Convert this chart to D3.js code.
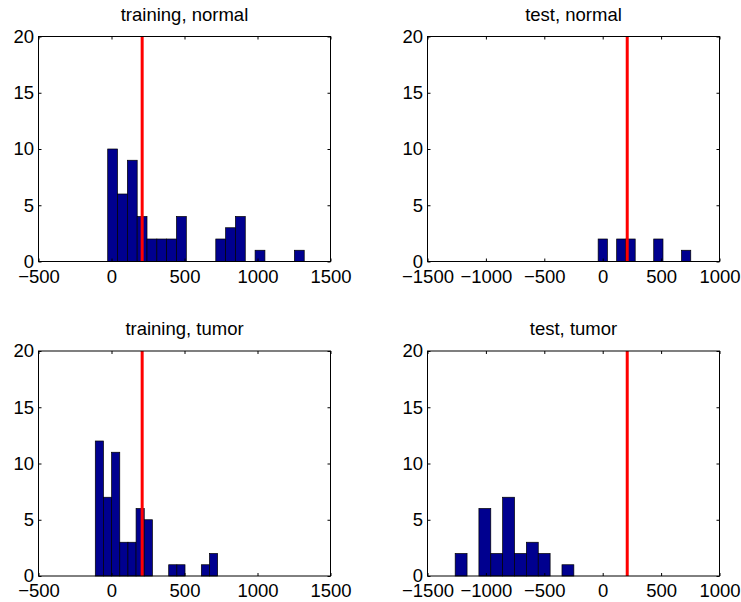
<!DOCTYPE html>
<html lang="en">
<head>
<meta charset="utf-8">
<title>Histograms</title>
<script type="text/javascript" src="https://d3js.org/d3.v7.min.js"></script>
<style>
body {
	margin: 0;
	background: #fff;
}
svg text {
	font-family: "Liberation Sans", Arial, Helvetica, sans-serif;
	font-size: 18.5px;
	fill: #000;
}
.bar {
	fill: #00008f;
	stroke: #000;
	stroke-width: 0.7;
}
</style>
</head>
<body>
<div id="chart"></div>
<script type="text/javascript">

// Panel titles, in reading order
var titles = ["training, normal", "test, normal", "training, tumor", "test, tumor"];

// Histogram counts
var trainNormalCounts = [10, 6, 9, 4, 2, 2, 2, 4, 0, 0, 0, 2, 3, 4, 0, 1, 0, 0, 0, 1];
var testNormalCounts = [2, 0, 2, 2, 0, 0, 2, 0, 0, 1];
var trainTumorCounts = [12, 7, 11, 3, 3, 6, 5, 0, 0, 1, 1, 0, 0, 1, 2];
var testTumorCounts = [2, 0, 6, 2, 7, 2, 3, 2, 0, 1];

// Data min / max of each panel (hist spreads its bins evenly between them)
var binRanges = [[-26, 1320], [-39, 754], [-111, 727], [-1263, -247]];

// Axis limits and ticks
var xDomains = [[-500, 1500], [-1500, 1000], [-500, 1500], [-1500, 1000]];
var xTicksLeft = [-500, 0, 500, 1000, 1500];
var xTicksRight = [-1500, -1000, -500, 0, 500, 1000];
var yTicks = [0, 5, 10, 15, 20];

// Decision threshold (red line)
var threshold = 210;

var w = 741, h = 602;
var svg = d3.select("#chart").append("svg")
	.attr("width", w)
	.attr("height", h);

// axes boxes: left/top of each panel
var boxW = 292, boxH = 225;
var origins = [[38.5, 36.5], [427.5, 36.5], [38.5, 351], [427.5, 351]];
var allCounts = [trainNormalCounts, testNormalCounts, trainTumorCounts, testTumorCounts];
var allTicks = [xTicksLeft, xTicksRight, xTicksLeft, xTicksRight];

var y = d3.scaleLinear().domain([0, 20]).range([boxH, 0]);
var fmt = d3.format("d");

allCounts.forEach(function(counts, i) {
	var g = svg.append("g")
		.attr("transform", "translate(" + origins[i][0] + "," + origins[i][1] + ")");

	var x = d3.scaleLinear().domain(xDomains[i]).range([0, boxW]);

	// bin edges like MATLAB hist
	var lo = binRanges[i][0], hi = binRanges[i][1];
	var step = (hi - lo) / counts.length;
	var bins = counts.map(function(c, k) {
		return {x0: lo + k * step, x1: lo + (k + 1) * step, count: c};
	});

	g.selectAll("rect.bar")
		.data(bins)
		.enter()
		.append("rect")
		.attr("class", "bar")
		.attr("x", function(d) { return x(d.x0); })
		.attr("width", function(d) { return x(d.x1) - x(d.x0); })
		.attr("y", function(d) { return y(d.count); })
		.attr("height", function(d) { return y(0) - y(d.count); });

	// threshold line
	g.append("line")
		.attr("x1", x(threshold))
		.attr("x2", x(threshold))
		.attr("y1", y(20))
		.attr("y2", y(0))
		.attr("stroke", "#ff0000")
		.attr("stroke-width", 3);

	// axes: ticks point inward on all four sides
	var bottom = g.append("g")
		.attr("transform", "translate(0," + boxH + ")")
		.call(d3.axisBottom(x).tickValues(allTicks[i]).tickFormat(fmt).tickSizeInner(-3).tickSizeOuter(0).tickPadding(8));
	var left = g.append("g")
		.call(d3.axisLeft(y).tickValues(yTicks).tickFormat(fmt).tickSizeInner(-3).tickSizeOuter(0).tickPadding(4.5));
	var top = g.append("g")
		.call(d3.axisTop(x).tickValues(allTicks[i]).tickSizeInner(-3).tickSizeOuter(0).tickFormat(""));
	var right = g.append("g")
		.attr("transform", "translate(" + boxW + ",0)")
		.call(d3.axisRight(y).tickValues(yTicks).tickSizeInner(-3).tickSizeOuter(0).tickFormat(""));

	[bottom, left, top, right].forEach(function(a) {
		a.select(".domain").remove();
		a.selectAll("text").attr("font-family", null).attr("font-size", null);
		a.selectAll("line").attr("stroke", "#000");
	});

	g.append("rect")
		.attr("width", boxW)
		.attr("height", boxH)
		.attr("fill", "none")
		.attr("stroke", "#000")
		.attr("stroke-width", 1);

	g.append("text")
		.attr("x", boxW / 2)
		.attr("y", -16)
		.attr("text-anchor", "middle")
		.text(titles[i]);
});

</script>
</body>
</html>
